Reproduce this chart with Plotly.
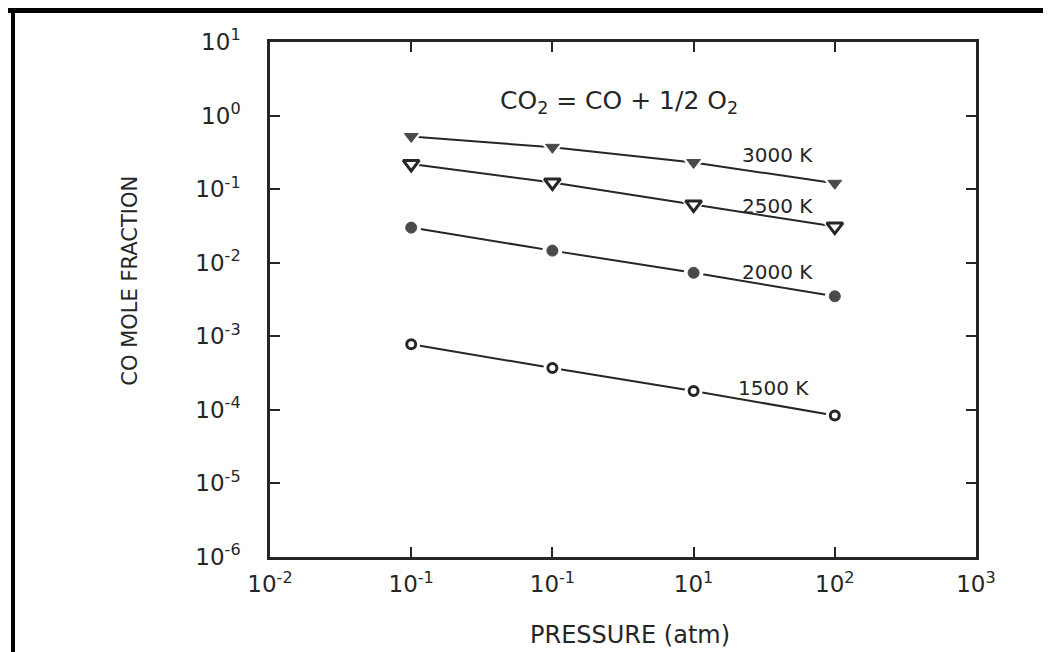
import math
import plotly.graph_objects as go

# Data
pressure = [0.1, 1, 10, 100]
co_3000 = [0.52, 0.37, 0.23, 0.12]
co_2500 = [0.22, 0.123, 0.062, 0.031]
co_2000 = [0.030, 0.0146, 0.0073, 0.0035]
co_1500 = [7.8e-4, 3.7e-4, 1.8e-4, 8.4e-5]

series_names = ["3000 K", "2500 K", "2000 K", "1500 K"]
series_values = [co_3000, co_2500, co_2000, co_1500]
series_symbols = ["triangle-down", "triangle-down-open", "circle", "circle-open"]
series_sizes = [12, 14, 11, 9]
# label anchor positions (data units)
label_x = [39, 39, 39, 36.5]
label_y = [0.293, 0.0596, 0.00757, 1.96e-4]

x_tickvals = [0.01, 0.1, 1, 10, 100, 1000]
x_ticktext = ["10<sup>-2</sup>", "10<sup>-1</sup>", "10<sup>-1</sup>",
              "10<sup>1</sup>", "10<sup>2</sup>", "10<sup>3</sup>"]
y_tickvals = [10, 1, 0.1, 0.01, 1e-3, 1e-4, 1e-5, 1e-6]
y_ticktext = ["10<sup>1</sup>", "10<sup>0</sup>", "10<sup>-1</sup>", "10<sup>-2</sup>",
              "10<sup>-3</sup>", "10<sup>-4</sup>", "10<sup>-5</sup>", "10<sup>-6</sup>"]

FONT = "DejaVu Sans, Liberation Sans, Arial, sans-serif"
INK = "#262626"

fig = go.Figure()
for name, vals, sym, sz in zip(series_names, series_values, series_symbols, series_sizes):
    fig.add_trace(go.Scatter(
        x=pressure, y=vals, mode="lines", name=name,
        line=dict(color=INK, width=2), showlegend=False, hoverinfo="skip"))
    # white halo leaves a small gap between the line and each marker
    fig.add_trace(go.Scatter(
        x=pressure, y=vals, mode="markers", showlegend=False, hoverinfo="skip",
        marker=dict(symbol=sym.replace("-open", ""), size=sz + 9, color="white")))
    open_sym = sym.endswith("-open")
    fig.add_trace(go.Scatter(
        x=pressure, y=vals, mode="markers", name=name, showlegend=False,
        marker=dict(symbol=sym, size=sz,
                    color="#4a4a4a" if not open_sym else INK,
                    line=dict(color="#4a4a4a" if not open_sym else INK,
                              width=3 if open_sym else 1))))

# annotations on log axes take log10 coordinates
for name, lx, ly in zip(series_names, label_x, label_y):
    fig.add_annotation(x=math.log10(lx), y=math.log10(ly), xref="x", yref="y",
                       text=name, showarrow=False, xanchor="center", yanchor="middle",
                       font=dict(family=FONT, size=20, color=INK))

fig.add_annotation(x=0.495, y=0.884, xref="paper", yref="paper", showarrow=False,
                   text="CO<sub>2</sub> = CO + 1/2 O<sub>2</sub>",
                   xanchor="center", yanchor="middle",
                   font=dict(family=FONT, size=25, color=INK))

# axis titles placed as annotations to match the reference positions
fig.add_annotation(x=0.51, y=-0.151, xref="paper", yref="paper", showarrow=False,
                   text="PRESSURE (atm)", xanchor="center", yanchor="middle",
                   font=dict(family=FONT, size=24, color=INK))
fig.add_annotation(x=-0.198, y=0.537, xref="paper", yref="paper", showarrow=False,
                   text="CO MOLE FRACTION", textangle=-90, xanchor="center", yanchor="middle",
                   font=dict(family=FONT, size=21, color=INK))

axis_common = dict(type="log", showgrid=False, zeroline=False, showline=True,
                   linecolor=INK, linewidth=2.5, mirror="ticks", ticks="inside",
                   ticklen=10, tickwidth=2, tickcolor=INK,
                   tickfont=dict(family=FONT, size=23, color=INK))

fig.update_xaxes(**axis_common, range=[-2, 3], tickmode="array",
                 tickvals=x_tickvals, ticktext=x_ticktext, ticklabelstandoff=5)
fig.update_yaxes(**axis_common, range=[-6, 1], tickmode="array",
                 tickvals=y_tickvals, ticktext=y_ticktext, ticklabelstandoff=22)

fig.update_layout(
    width=1043, height=644,
    margin=dict(l=262, r=75, t=34, b=95),
    paper_bgcolor="white", plot_bgcolor="white",
    showlegend=False,
)

# Scan frame: thick black edge along the top and left of the page
fig.add_shape(type="line", xref="paper", yref="paper", x0=-0.38, x1=1.2, y0=1.061, y1=1.061,
              line=dict(color="black", width=5), layer="above")
fig.add_shape(type="line", xref="paper", yref="paper", x0=-0.364, x1=-0.364, y0=1.07, y1=-0.25,
              line=dict(color="black", width=4), layer="above")

fig.write_html("out.html")
